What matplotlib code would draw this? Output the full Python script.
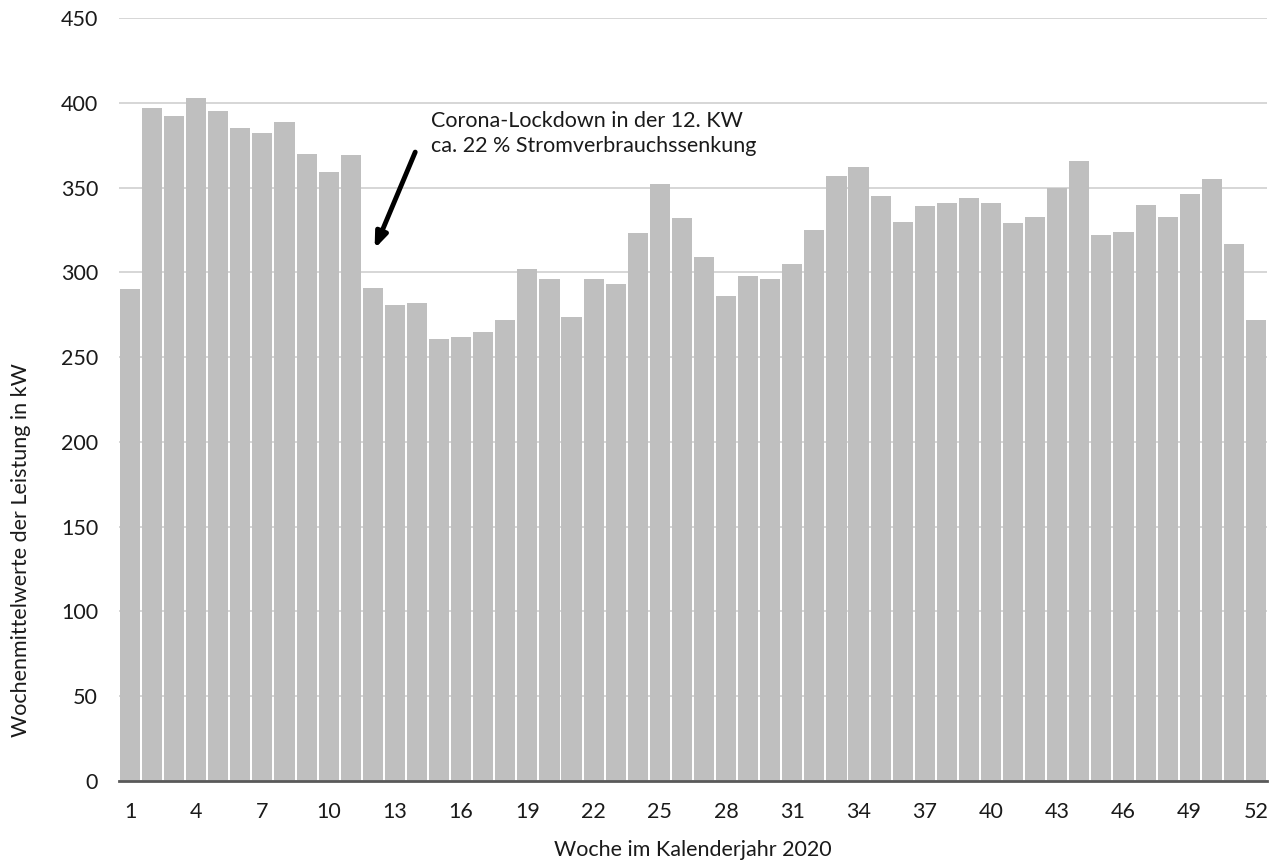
import matplotlib
matplotlib.use("Agg")
import matplotlib.pyplot as plt
import numpy as np

plt.rcParams['font.family'] = ['Lato', 'DejaVu Sans']

weeks = list(range(1, 53))
power_kw = [290, 397, 392, 403, 395, 385, 382, 389, 370, 359, 369, 291,
            281, 282, 261, 262, 265, 272, 302, 296, 274, 296, 293, 323,
            352, 332, 309, 286, 298, 296, 305, 325, 357, 362, 345, 330,
            339, 341, 344, 341, 329, 333, 350, 366, 322, 324, 340, 333,
            346, 355, 317, 272]
tick_weeks = list(range(1, 53, 3))
y_ticks = list(range(0, 451, 50))

FS = 15.5
TXT = '#1a1a1a'

fig = plt.figure(figsize=(12.79, 8.66), dpi=100)
ax = fig.add_axes([0.093, 0.0982, 0.8976, 0.8808])

ax.bar(weeks, power_kw, width=0.91, color='#bfbfbf', zorder=2)
ax.set_xlim(0.5, 52.5)
ax.set_ylim(0, 450)
ax.set_yticks(y_ticks)
ax.set_xticks(tick_weeks)
ax.set_xticklabels([str(w) for w in tick_weeks])

ax.yaxis.grid(True, color='#d0d0d0', linewidth=1.2, zorder=0)
ax.set_axisbelow(True)
for side in ['top', 'right', 'left']:
    ax.spines[side].set_visible(False)
ax.spines['bottom'].set_color('#595959')
ax.spines['bottom'].set_linewidth(2)
ax.spines['bottom'].set_zorder(3)
ax.tick_params(axis='both', length=0, labelsize=FS, colors=TXT)
ax.tick_params(axis='x', pad=15)
ax.tick_params(axis='y', pad=15)

ax.set_xlabel('Woche im Kalenderjahr 2020', fontsize=FS, color=TXT, labelpad=13)
ax.set_ylabel('Wochenmittelwerte der Leistung in kW', fontsize=FS, color=TXT)
ax.yaxis.set_label_coords(-0.0767, 0.303)

ax.annotate('', xy=(12.08, 314), xytext=(13.92, 371),
            arrowprops=dict(arrowstyle='-|>,head_length=0.9,head_width=0.35',
                            color='black', lw=3.5, shrinkA=0, shrinkB=0))
ax.text(14.65, 395, 'Corona-Lockdown in der 12. KW\nca. 22 % Stromverbrauchssenkung',
        fontsize=FS, color=TXT, ha='left', va='top', linespacing=1.3)

fig.savefig('out.png', dpi=100)
